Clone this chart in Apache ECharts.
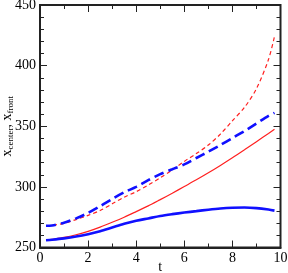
<!DOCTYPE html>
<html>
<head>
<meta charset="utf-8">
<script src="https://cdn.jsdelivr.net/npm/echarts@6/dist/echarts.min.js"></script>
<style>
html,body{margin:0;padding:0;background:#fff;}
#chart{width:288px;height:273px;}
</style>
</head>
<body>
<div id="chart"></div>
<script>
var tValues    = [0.25, 0.5, 1, 1.5, 2, 2.5, 3, 3.5, 4, 4.5, 5, 5.5, 6, 6.5, 7, 7.5, 8, 8.5, 9, 9.5, 9.75];
var blueSolid  = [256, 256.4, 257.5, 259, 261, 263.5, 266.5, 269.5, 272, 274, 276, 277.5, 278.8, 280, 281.2, 282.2, 282.8, 283, 282.5, 281.3, 280.4];
var blueDashed = [268, 268.2, 270.5, 274, 278.5, 284, 290, 295.5, 300, 305.5, 310.5, 314.5, 318.5, 323.8, 329, 334.5, 340.3, 346, 352.3, 358.5, 361];
var redSolid   = [256, 256.7, 258.3, 260.5, 263.3, 266.8, 270.8, 275, 279.6, 284.3, 289.5, 294.8, 300.3, 305.8, 311.6, 317.7, 324, 330.6, 337.3, 344, 347.5];
var redDashed  = [268, 268.3, 270, 273, 276.5, 280.5, 286, 291.5, 296, 301.5, 307.5, 314, 321, 327.5, 334.5, 343.5, 354.5, 365.5, 381, 405, 424];
var xTicks = [0, 2, 4, 6, 8, 10];
var yTicks = [250, 300, 350, 400, 450];

function pairs(ys) { return tValues.map(function (t, i) { return [t, ys[i]]; }); }

var font = 'Liberation Serif';
var xMin = xTicks[0], xMax = xTicks[xTicks.length - 1];
var yMin = yTicks[0], yMax = yTicks[yTicks.length - 1];

function makeAxis(isX, pos, primary) {
  return {
    type: 'value', gridIndex: 0, position: pos,
    min: isX ? xMin : yMin, max: isX ? xMax : yMax, interval: isX ? 2 : 50,
    axisLine: { show: primary, onZero: false, lineStyle: { color: '#222', width: 2 } },
    axisTick: { show: true, inside: true, length: 7, lineStyle: { color: '#222', width: 1 } },
    minorTick: { show: true, splitNumber: isX ? 2 : 5, length: 4, lineStyle: { color: '#222', width: 1 } },
    splitLine: { show: false },
    minorSplitLine: { show: false },
    axisLabel: { show: primary, margin: 4, fontFamily: font, fontSize: 14, color: '#000' },
    nameMoveOverlap: false
  };
}

var xBottom = makeAxis(true, 'bottom', true);
xBottom.name = 't';
xBottom.nameLocation = 'middle';
xBottom.nameGap = 13;
xBottom.nameTextStyle = { fontFamily: font, fontSize: 14, color: '#000' };

var yLeft = makeAxis(false, 'left', true);
yLeft.name = '{m|x}{s|center}{m|, x}{s|front}';
yLeft.nameLocation = 'middle';
yLeft.nameGap = 25;
yLeft.nameRotate = 90;
yLeft.nameTextStyle = { fontFamily: font, color: '#000',
  rich: {
    m: { fontFamily: font, fontSize: 14, lineHeight: 16, color: '#000', verticalAlign: 'middle' },
    s: { fontFamily: font, fontSize: 9, lineHeight: 16, color: '#000', verticalAlign: 'bottom', padding: [6, 0, 0, 0] }
  } };

var chart = echarts.init(document.getElementById('chart'), null, { renderer: 'canvas' });
chart.setOption({
  animation: false,
  backgroundColor: '#fff',
  grid: { left: 40, right: 7.5, top: 5, bottom: 25.5, containLabel: false, outerBoundsMode: 'none',
          show: true, borderColor: '#222', borderWidth: 2, backgroundColor: 'transparent' },
  xAxis: [xBottom, makeAxis(true, 'top', false)],
  yAxis: [yLeft, makeAxis(false, 'right', false)],
  series: [
    { type: 'line', xAxisIndex: 0, yAxisIndex: 0, data: pairs(redDashed), showSymbol: false, smooth: 0.3,
      lineStyle: { color: '#ff2020', width: 1.2, type: [4, 3] } },
    { type: 'line', xAxisIndex: 0, yAxisIndex: 0, data: pairs(redSolid), showSymbol: false, smooth: 0.3,
      lineStyle: { color: '#ff2020', width: 1.2, type: 'solid' } },
    { type: 'line', xAxisIndex: 0, yAxisIndex: 0, data: pairs(blueDashed), showSymbol: false, smooth: 0.3,
      lineStyle: { color: '#1010ff', width: 2.6, type: [10, 5] } },
    { type: 'line', xAxisIndex: 0, yAxisIndex: 0, data: pairs(blueSolid), showSymbol: false, smooth: 0.3,
      lineStyle: { color: '#1010ff', width: 2.6, type: 'solid' } }
  ]
});
</script>
</body>
</html>
